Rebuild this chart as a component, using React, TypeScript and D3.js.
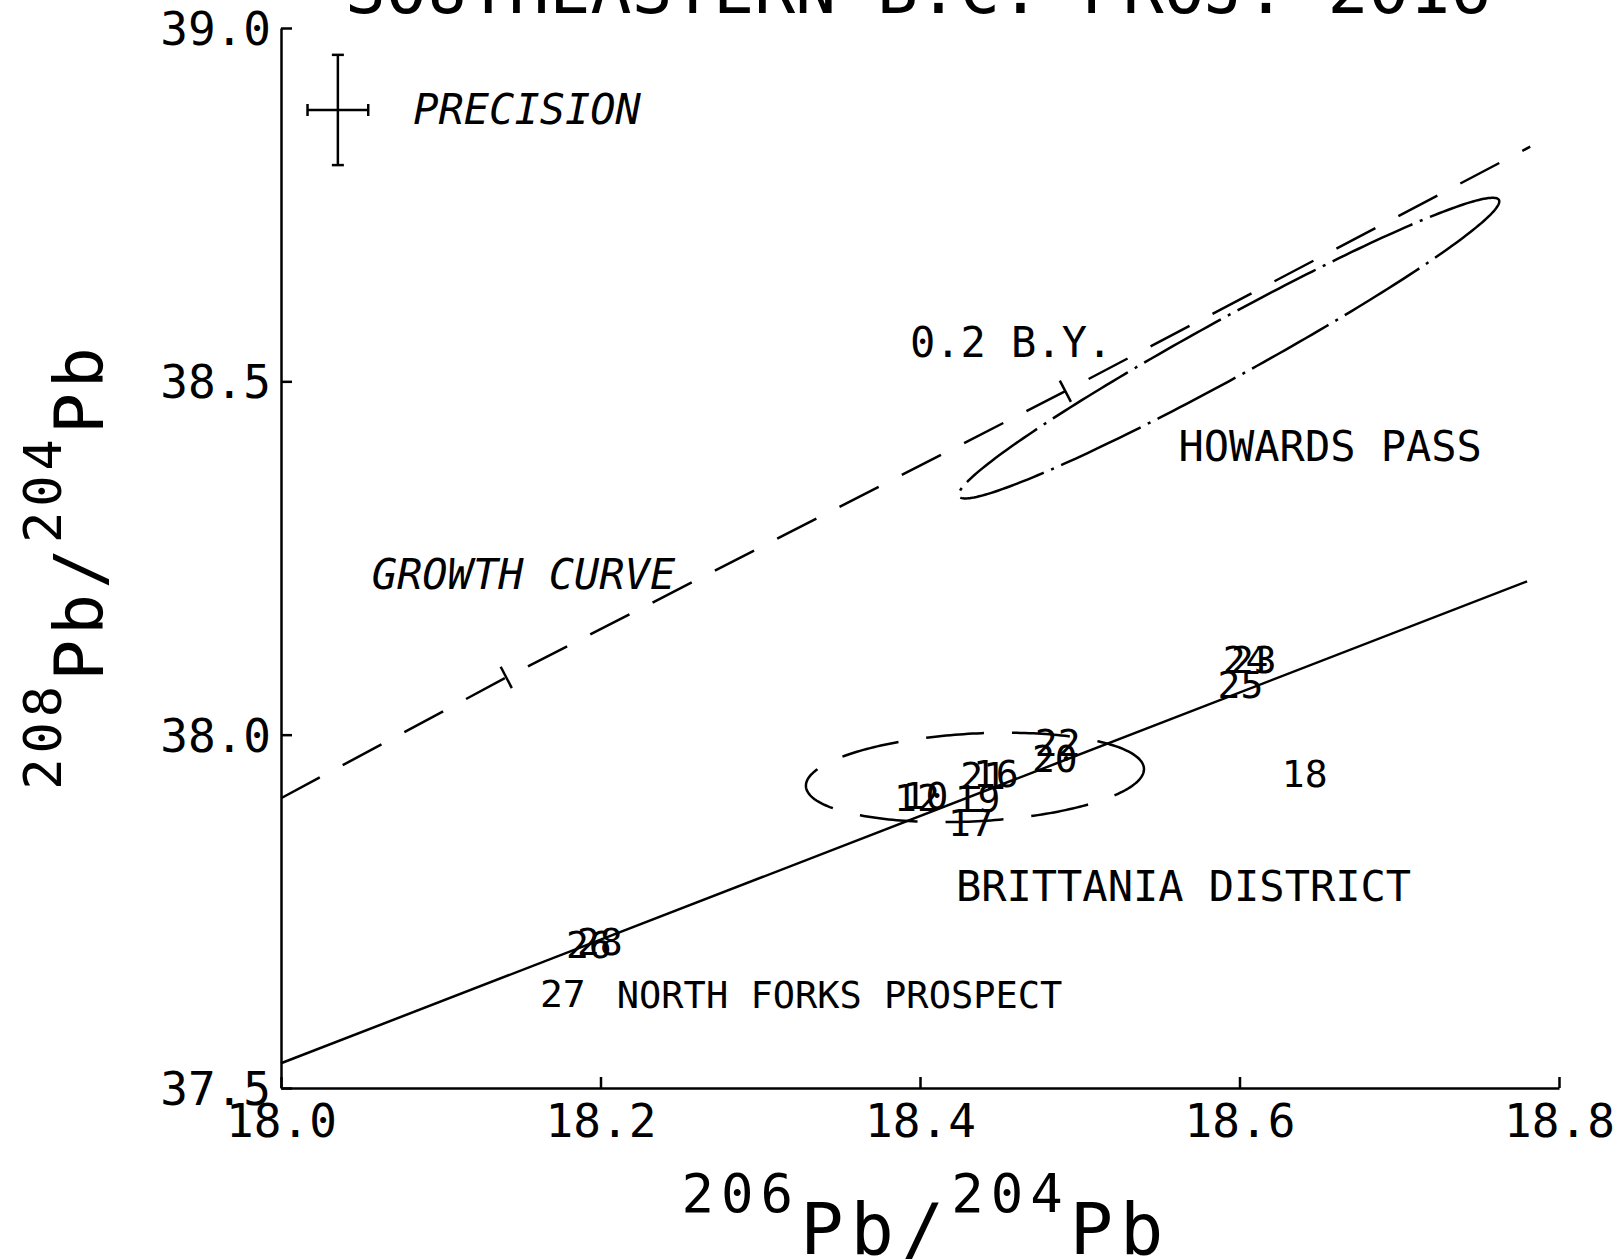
import React, { useEffect, useRef } from 'react';
import * as d3 from 'd3';

const title = 'SOUTHEASTERN B.C. PROJ. 2016';

const xTicks = [18.0, 18.2, 18.4, 18.6, 18.8];
const yTicks = [37.5, 38.0, 38.5, 39.0];

// model growth curve and its age marks
const growthX = [18.0, 18.141, 18.491, 18.782];
const growthY = [37.91, 38.081, 38.486, 38.832];
const ageMarkX = [18.141, 18.491];
const ageMarkY = [38.081, 38.486];

// line through the Brittania / North Forks leads
const fitX = [18.0, 18.78];
const fitY = [37.535, 38.217];

// sample numbers plotted at their ratios
const sampleLabels = ['26', '28', '27', '12', '10', '19', '17', '21', '16', '22', '20', '24', '23', '25', '18'];
const sampleX = [18.1927, 18.1996, 18.1764, 18.3981, 18.4035, 18.436, 18.4318, 18.4395, 18.4475, 18.4862, 18.4844, 18.6038, 18.609, 18.6006, 18.6408];
const sampleY = [37.703, 37.707, 37.634, 37.911, 37.914, 37.91, 37.876, 37.942, 37.945, 37.989, 37.966, 38.107, 38.107, 38.071, 37.945];

// ellipses: centre x, centre y, semi-axis vectors (x, y) and (x, y)
const howardsPass = [18.5934, 38.547, 0.169, 0.2097, 0.0088, -0.036];
const brittania = [18.4344, 37.9395, 0.1058, 0.011, 0.00125, 0.0623];

// precision cross: centre and half errors
const precision = [18.0356, 38.884, 0.019, 0.078];

const noteText = ['PRECISION', '0.2 B.Y.', 'HOWARDS PASS', 'GROWTH CURVE', 'BRITTANIA DISTRICT', 'NORTH FORKS PROSPECT'];
const noteX = [18.0828, 18.3937, 18.5618, 18.0568, 18.4225, 18.2102];
const noteY = [38.864, 38.534, 38.387, 38.206, 37.764, 37.613];
const noteItalic = [true, false, false, true, false, false];
const noteSize = [42, 42, 42, 42, 42, 37];

const W = 1621;
const H = 1259;
const FONT = 'DejaVu Sans Mono';

export default function App() {
  const svgRef = useRef(null);

  useEffect(() => {
    const svg = d3.select(svgRef.current);
    svg.selectAll('*').remove();

    const x = d3.scaleLinear().domain([18.0, 18.8]).range([281, 1559]);
    const y = d3.scaleLinear().domain([37.5, 39.0]).range([1088, 28]);

    // title, mostly cut off at the top of the page
    svg
      .append('text')
      .attr('x', 918)
      .attr('y', 13)
      .attr('text-anchor', 'middle')
      .style('font-family', FONT)
      .style('font-size', '68px')
      .text(title);

    const xAxis = svg
      .append('g')
      .attr('transform', `translate(0, ${y(37.5)})`)
      .call(
        d3
          .axisBottom(x)
          .tickValues(xTicks)
          .tickSizeInner(-11)
          .tickSizeOuter(0)
          .tickPadding(16)
          .tickFormat(d3.format('.1f'))
      );
    xAxis.selectAll('text').style('font-family', FONT).style('font-size', '46px');

    const yAxis = svg
      .append('g')
      .attr('transform', `translate(${x(18.0)}, 0)`)
      .call(
        d3
          .axisLeft(y)
          .tickValues(yTicks)
          .tickSizeInner(-11)
          .tickSizeOuter(0)
          .tickPadding(10)
          .tickFormat(d3.format('.1f'))
      );
    yAxis.selectAll('text').style('font-family', FONT).style('font-size', '46px').attr('dy', '0.36em');

    svg.selectAll('.domain, .tick line').attr('stroke', '#000').attr('stroke-width', 2.5);

    const line = d3
      .line()
      .x((d) => x(d[0]))
      .y((d) => y(d[1]));

    // growth curve
    svg
      .append('path')
      .attr('d', line(growthX.map((v, i) => [v, growthY[i]])))
      .attr('fill', 'none')
      .attr('stroke', '#000')
      .attr('stroke-width', 2.5)
      .attr('stroke-dasharray', '44 26');

    // age marks perpendicular to the curve
    const ang = Math.atan2(y(growthY[3]) - y(growthY[0]), x(growthX[3]) - x(growthX[0]));
    ageMarkX.forEach((v, i) => {
      const px = x(v);
      const py = y(ageMarkY[i]);
      const nx = -Math.sin(ang) * 12;
      const ny = Math.cos(ang) * 12;
      svg
        .append('line')
        .attr('x1', px - nx)
        .attr('y1', py - ny)
        .attr('x2', px + nx)
        .attr('y2', py + ny)
        .attr('stroke', '#000')
        .attr('stroke-width', 2.5);
    });

    // fitted line
    svg
      .append('path')
      .attr('d', line(fitX.map((v, i) => [v, fitY[i]])))
      .attr('fill', 'none')
      .attr('stroke', '#000')
      .attr('stroke-width', 2.5);

    // ellipses
    const ellipse = (e) =>
      d3.range(0, 2 * Math.PI, Math.PI / 120).map((t) => [
        e[0] + e[2] * Math.cos(t) + e[4] * Math.sin(t),
        e[1] + e[3] * Math.cos(t) + e[5] * Math.sin(t),
      ]);
    const closed = d3
      .line()
      .x((d) => x(d[0]))
      .y((d) => y(d[1]))
      .curve(d3.curveLinearClosed);

    svg
      .append('path')
      .attr('d', closed(ellipse(howardsPass)))
      .attr('fill', 'none')
      .attr('stroke', '#000')
      .attr('stroke-width', 2.5)
      .attr('stroke-dasharray', '88 8 3 8');

    svg
      .append('path')
      .attr('d', closed(ellipse(brittania)))
      .attr('fill', 'none')
      .attr('stroke', '#000')
      .attr('stroke-width', 2.5)
      .attr('stroke-dasharray', '58 28');

    // precision cross
    const [pcx, pcy, pdx, pdy] = precision;
    const cross = svg.append('g').attr('stroke', '#000').attr('stroke-width', 2.5);
    cross.append('line').attr('x1', x(pcx)).attr('x2', x(pcx)).attr('y1', y(pcy + pdy)).attr('y2', y(pcy - pdy));
    cross.append('line').attr('x1', x(pcx - pdx)).attr('x2', x(pcx + pdx)).attr('y1', y(pcy)).attr('y2', y(pcy));
    [pcy + pdy, pcy - pdy].forEach((v) =>
      cross.append('line').attr('x1', x(pcx) - 6).attr('x2', x(pcx) + 6).attr('y1', y(v)).attr('y2', y(v))
    );
    [pcx - pdx, pcx + pdx].forEach((v) =>
      cross.append('line').attr('x1', x(v)).attr('x2', x(v)).attr('y1', y(pcy) - 6).attr('y2', y(pcy) + 6)
    );

    // sample numbers
    svg
      .append('g')
      .selectAll('text')
      .data(sampleLabels)
      .join('text')
      .attr('x', (d, i) => x(sampleX[i]))
      .attr('y', (d, i) => y(sampleY[i]))
      .attr('dy', '0.36em')
      .attr('text-anchor', 'middle')
      .style('font-family', FONT)
      .style('font-size', '38px')
      .text((d) => d);

    // annotations
    svg
      .append('g')
      .selectAll('text')
      .data(noteText)
      .join('text')
      .attr('x', (d, i) => x(noteX[i]))
      .attr('y', (d, i) => y(noteY[i]))
      .style('font-family', FONT)
      .style('font-size', (d, i) => `${noteSize[i]}px`)
      .style('font-style', (d, i) => (noteItalic[i] ? 'italic' : 'normal'))
      .text((d) => d);

    // axis titles with superscript mass numbers
    const yTitle = svg
      .append('text')
      .attr('transform', `translate(103, 566) rotate(-90)`)
      .attr('text-anchor', 'middle')
      .style('font-family', FONT)
      .style('letter-spacing', '5px');
    const xTitle = svg
      .append('text')
      .attr('transform', `translate(926, 1254)`)
      .attr('text-anchor', 'middle')
      .style('font-family', FONT)
      .style('letter-spacing', '7px');
    [yTitle, xTitle].forEach((t, k) => {
      const parts = k === 0 ? ['208', 'Pb', '/', '204', 'Pb'] : ['206', 'Pb', '/', '204', 'Pb'];
      let raised = false;
      parts.forEach((p) => {
        const sup = /^\d+$/.test(p);
        const dy = sup && !raised ? -42 : !sup && raised ? 42 : 0;
        raised = sup;
        t.append('tspan')
          .attr('dy', dy)
          .style('font-size', sup ? (k === 0 ? '52px' : '54px') : k === 0 ? '68px' : '72px')
          .text(p);
      });
    });
  }, []);

  return (
    <svg
      ref={svgRef}
      width={W}
      height={H}
      style={{ position: 'absolute', left: 0, top: 0, background: '#fff' }}
    />
  );
}
